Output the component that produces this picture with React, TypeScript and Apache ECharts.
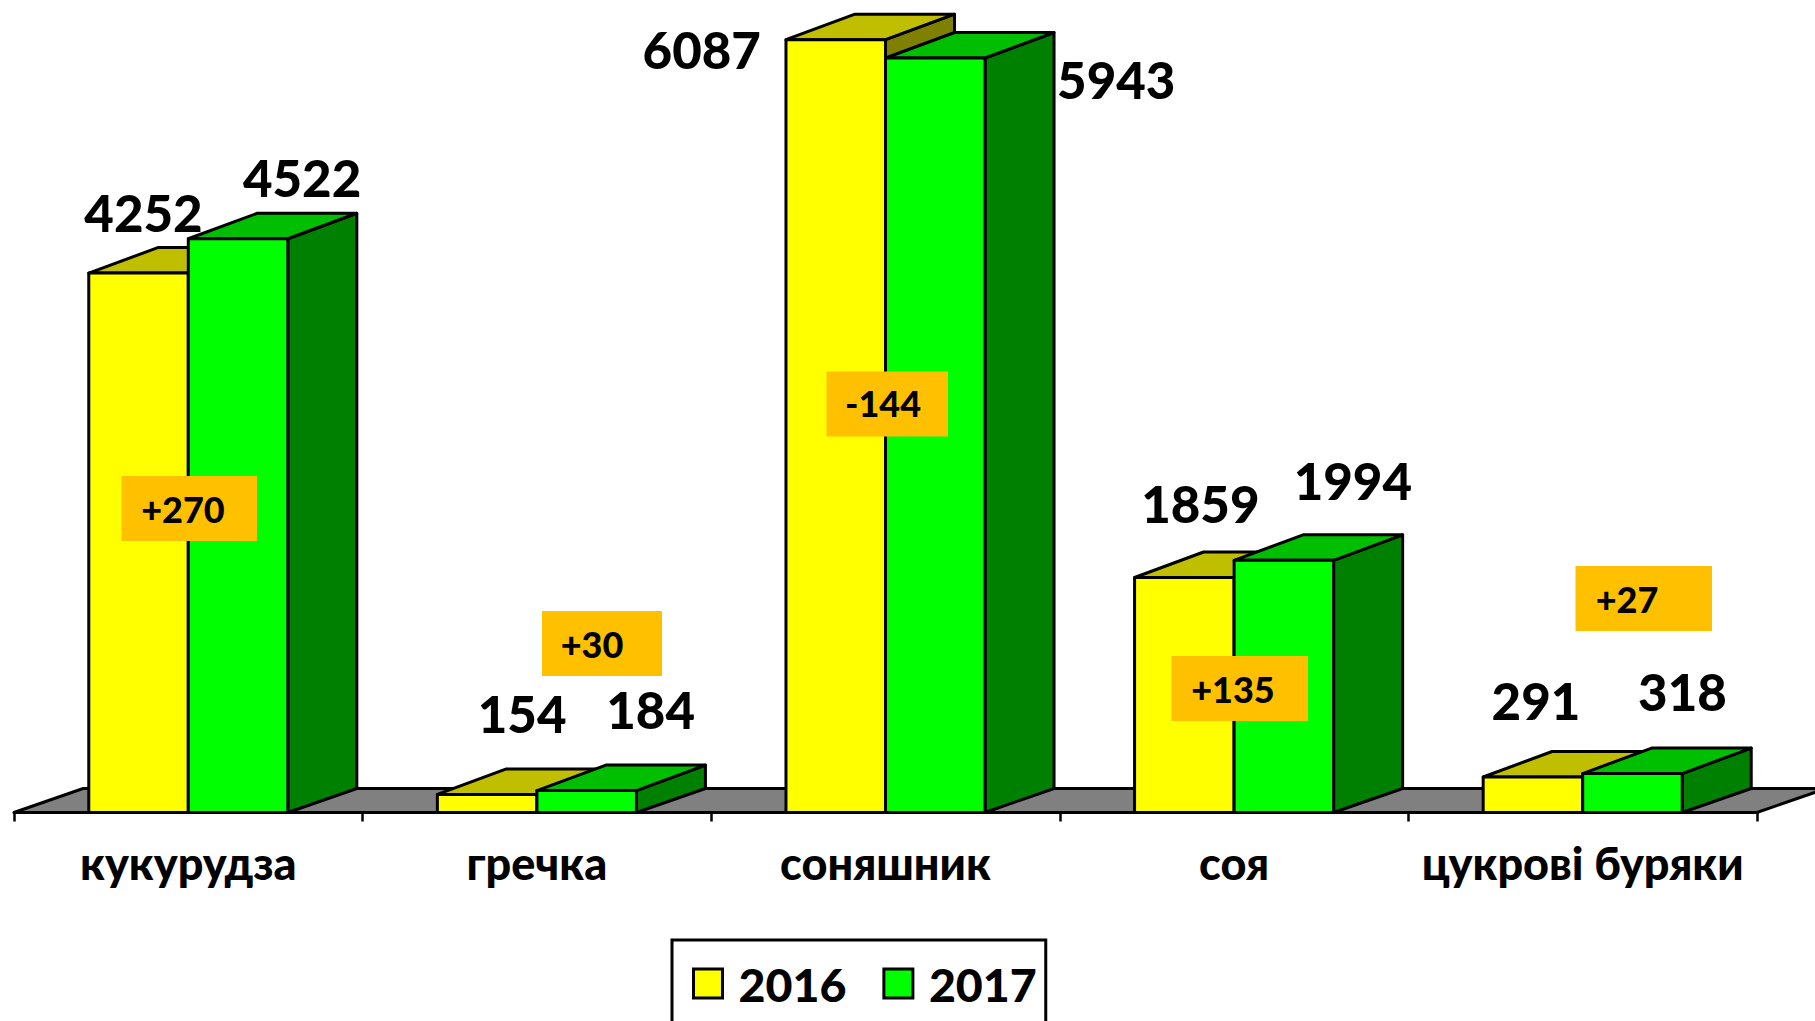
import React, { useEffect, useRef } from "react";
import * as echarts from "echarts";

const categories = ["кукурудза", "гречка", "соняшник", "соя", "цукрові буряки"];
const years = ["2016", "2017"];
const values2016 = [4252, 154, 6087, 1859, 291];
const values2017 = [4522, 184, 5943, 1994, 318];
const deltas = ["+270", "+30", "-144", "+135", "+27"];

// layout only, no data
const FONT = "Lato, Carlito, 'Open Sans', sans-serif";
const DEPTH_X = 69;
const DEPTH_Y = 24;
const DEPTH_Y_TOP = 25.5;
const BASE_LIFT = 1.5;
const BAR_RATIO = 0.2855;
const LINE = 3;
const labelOffsets2016 = [[5, -61], [35, -81], [-134, 10], [16, -74], [3, -76]];
const labelOffsets2017 = [[64, -61], [64, -81], [181, 21], [69, -80], [50, -82]];
const deltaBoxes = [
  { x: 121.5, y: 476, w: 135.5, h: 65, tx: 183, ty: 509 },
  { x: 542, y: 611, w: 120, h: 65, tx: 592, ty: 644 },
  { x: 826.5, y: 371.5, w: 121.5, h: 65, tx: 883, ty: 403 },
  { x: 1171.5, y: 656, w: 136.5, h: 65, tx: 1233, ty: 689 },
  { x: 1575.5, y: 566, w: 136.5, h: 65, tx: 1627, ty: 599 },
];

function barSeries(name: string, values: number[], side: -1 | 1, offsets: number[][], front: string, top: string, right: string, z: number) {
  return {
    type: "custom",
    name,
    z,
    clip: false,
    silent: true,
    itemStyle: { color: front },
    encode: { x: 0, y: 1 },
    data: values.map((v, i) => [i, v]),
    renderItem: (params: any, api: any) => {
      const i = api.value(0);
      const v = api.value(1);
      const catW = api.size([1, 0])[0];
      const w = catW * BAR_RATIO;
      const [cx, yTop] = api.coord([i, v]);
      const yBase = api.coord([i, 0])[1] - BASE_LIFT;
      const x0 = side < 0 ? cx - w : cx;
      const x1 = x0 + w;
      const stroke = { stroke: "#000", lineWidth: LINE, lineJoin: "round" };
      const off = offsets[params.dataIndex];
      return {
        type: "group",
        children: [
          {
            type: "polygon",
            shape: { points: [[x1, yBase], [x1 + DEPTH_X, yBase - DEPTH_Y], [x1 + DEPTH_X, yTop - DEPTH_Y_TOP], [x1, yTop]] },
            style: { fill: right, ...stroke },
          },
          {
            type: "polygon",
            shape: { points: [[x0, yTop], [x0 + DEPTH_X, yTop - DEPTH_Y_TOP], [x1 + DEPTH_X, yTop - DEPTH_Y_TOP], [x1, yTop]] },
            style: { fill: top, ...stroke },
          },
          {
            type: "rect",
            shape: { x: x0, y: yTop, width: w, height: yBase - yTop },
            style: { fill: front, ...stroke },
          },
          {
            type: "text",
            z2: 50,
            style: {
              x: (x0 + x1) / 2 + off[0],
              y: yTop + off[1],
              text: String(v),
              fill: "#000",
              font: `900 51px ${FONT}`,
              align: "center",
              verticalAlign: "middle",
            },
          },
        ],
      };
    },
  };
}

export default function App() {
  const ref = useRef<HTMLDivElement>(null);
  useEffect(() => {
    const chart = echarts.init(ref.current!, null, { renderer: "svg" });
    chart.setOption({
      animation: false,
      backgroundColor: "#fff",
      grid: { left: 14, top: 12.6, width: 1743, height: 801.4 },
      xAxis: {
        type: "category",
        data: categories,
        z: 1,
        offset: -BASE_LIFT,
        boundaryGap: true,
        axisLine: { lineStyle: { color: "#000", width: 3 } },
        axisTick: { show: true, length: 9, alignWithLabel: false, lineStyle: { color: "#000", width: 2.5 } },
        axisLabel: {
          interval: 0,
          margin: 28,
          color: "#000",
          fontFamily: FONT,
          fontWeight: 900,
          fontSize: 45,
        },
      },
      yAxis: { type: "value", min: 0, max: 6300, show: false, splitLine: { show: false } },
      legend: {
        show: true,
        left: 672,
        top: 940,
        orient: "horizontal",
        padding: [20, 9, 65, 20],
        itemGap: 36,
        itemWidth: 29,
        itemHeight: 29,
        borderColor: "#000",
        borderWidth: 3,
        data: years.map((y, i) => ({
          name: y,
          icon: "rect",
          itemStyle: { color: i === 0 ? "#FFFF00" : "#00FF00", borderColor: "#000", borderWidth: 3 },
        })),
        textStyle: { color: "#000", fontFamily: FONT, fontWeight: 900, fontSize: 46.5, padding: [0, 0, 6, 11] },
      },
      series: [
        {
          type: "custom",
          name: "floor",
          z: 0,
          silent: true,
          clip: false,
          encode: { x: 0, y: 1 },
          data: [[0, 0]],
          renderItem: (params: any, api: any) => {
            const catW = api.size([1, 0])[0];
            const [cx, yZero] = api.coord([0, 0]);
            const y = yZero - BASE_LIFT;
            const left = cx - catW / 2;
            const right = left + catW * categories.length;
            return {
              type: "polygon",
              shape: { points: [[left, y], [left + DEPTH_X, y - DEPTH_Y], [right + DEPTH_X, y - DEPTH_Y], [right, y]] },
              style: { fill: "#808080", stroke: "#000", lineWidth: LINE },
            };
          },
        },
        barSeries(years[0], values2016, -1, labelOffsets2016, "#FFFF00", "#BFBF00", "#808000", 2),
        barSeries(years[1], values2017, 1, labelOffsets2017, "#00FF00", "#00BF00", "#008000", 3),
      ],
      graphic: deltaBoxes.flatMap((b, i) => [
        { type: "rect", z: 100, shape: { x: b.x, y: b.y, width: b.w, height: b.h }, style: { fill: "#FFC000" } },
        {
          type: "text",
          z: 101,
          x: b.tx,
          y: b.ty,
          style: { text: deltas[i], fill: "#000", font: `900 36px ${FONT}`, align: "center", verticalAlign: "middle" },
        },
      ]),
    });
    return () => chart.dispose();
  }, []);
  return <div ref={ref} style={{ position: "fixed", left: 0, top: 0, width: 1815, height: 1021, overflow: "hidden" }} />;
}
